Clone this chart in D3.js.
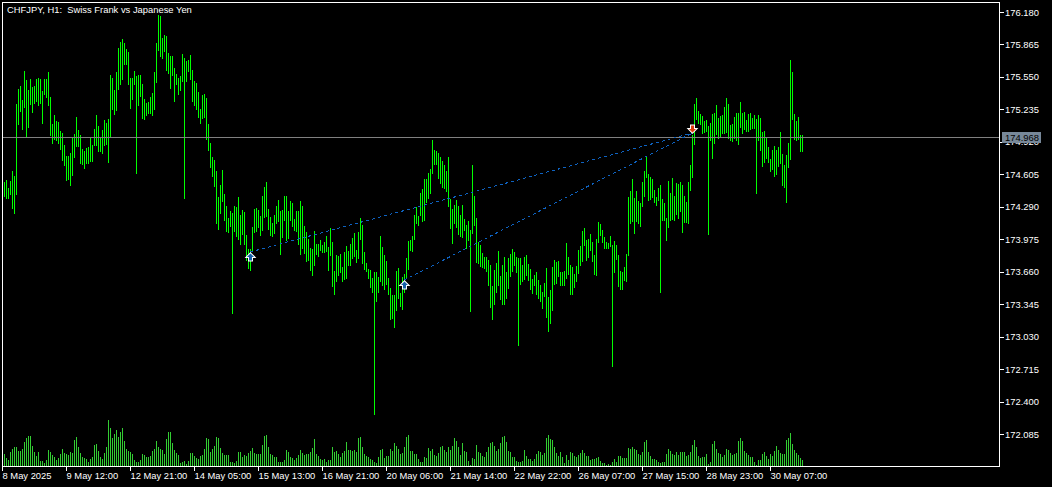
<!DOCTYPE html>
<html>
<head>
<meta charset="utf-8">
<script src="https://cdnjs.cloudflare.com/ajax/libs/d3/7.8.5/d3.min.js"></script>
<style>
  html, body { margin: 0; padding: 0; background: #000; overflow: hidden; }
  text { font-family: "Liberation Sans", Arial, sans-serif; font-size: 9.4px; fill: #fff; }
</style>
</head>
<body>
<div id="container"></div>
<script>
let w = 1052;
let h = 487;

let title = "CHFJPY, H1:  Swiss Frank vs Japanese Yen";
let priceTicks = [176.18,175.865,175.55,175.235,174.92,174.605,174.29,173.975,173.66,173.345,173.03,172.715,172.4,172.085];
let timeLabels = ["8 May 2025","9 May 12:00","12 May 21:00","14 May 05:00","15 May 13:00","16 May 21:00","20 May 06:00","21 May 14:00","22 May 22:00","26 May 07:00","27 May 15:00","28 May 23:00","30 May 07:00"];
let timeTickBars = [-1,31,63,95,127,159,191,223,255,287,319,351,383];
let lastPrice = 174.968;

let highs = [
174.536,174.555,174.477,174.545,174.642,174.594,175.292,175.438,175.467,175.331,
175.612,175.525,175.428,175.535,175.457,175.467,175.535,175.544,175.535,175.418,
175.535,175.535,175.603,175.360,175.098,175.185,175.127,175.118,175.030,175.011,
174.894,174.788,174.788,174.817,174.962,175.001,175.166,175.040,174.991,174.856,
174.836,174.865,174.875,174.962,174.894,175.050,175.185,175.079,174.962,175.040,
175.137,175.108,175.147,175.573,175.544,175.428,175.603,175.835,175.894,175.923,
175.884,175.826,175.797,175.544,175.544,175.612,175.564,175.573,175.573,175.486,
175.341,175.302,175.312,175.360,175.399,175.603,175.884,176.155,176.146,175.932,
175.961,175.952,175.787,175.758,175.758,175.641,175.583,175.544,175.564,175.777,
175.738,175.709,175.719,175.767,175.622,175.515,175.496,175.409,175.244,175.379,
175.389,175.350,175.098,174.914,174.778,174.749,174.642,174.390,174.506,174.652,
174.419,174.303,174.186,174.254,174.235,174.303,174.293,174.390,174.215,174.264,
174.245,174.021,173.886,173.886,174.099,174.274,174.283,174.264,174.206,174.400,
174.487,174.536,174.274,174.196,174.138,174.215,174.303,174.361,174.254,174.264,
174.400,174.400,174.254,174.351,174.332,174.177,174.254,174.254,174.351,174.303,
174.109,174.051,173.983,173.895,173.886,174.060,173.934,173.934,173.973,173.924,
173.954,174.012,173.905,174.089,173.954,173.672,173.827,173.818,173.837,173.711,
173.857,173.915,173.866,173.934,173.992,174.041,173.876,174.051,174.186,174.118,
173.857,173.750,173.692,173.682,173.604,173.663,173.663,173.614,174.012,173.905,
173.827,173.769,173.604,173.507,173.439,173.439,173.672,173.701,173.459,173.614,
173.643,173.798,173.963,173.973,174.012,174.215,174.293,174.206,174.429,174.468,
174.565,174.565,174.623,174.662,174.943,174.846,174.836,174.817,174.778,174.739,
174.700,174.642,174.778,174.371,174.274,174.312,174.361,174.303,174.215,174.312,
174.177,174.118,174.157,174.070,174.700,174.400,174.186,173.954,173.924,173.847,
173.808,173.808,173.779,173.730,173.527,173.682,173.750,173.866,173.623,173.730,
173.808,173.663,173.798,173.837,173.886,173.857,173.808,173.798,173.798,173.730,
173.808,173.827,173.740,173.692,173.594,173.633,173.663,173.585,173.536,173.469,
173.556,173.701,173.420,173.488,173.711,173.779,173.760,173.769,173.663,173.663,
173.672,173.944,173.808,173.730,173.711,173.643,173.721,173.876,173.915,174.060,
174.089,173.973,173.983,174.031,173.954,173.827,173.983,174.148,174.128,174.070,
174.002,173.954,173.944,174.012,173.924,173.963,173.924,173.827,173.672,173.663,
173.711,173.837,174.390,174.448,174.565,174.380,174.448,174.351,174.332,174.536,
174.642,174.788,174.613,174.584,174.565,174.458,174.390,174.477,174.506,174.371,
174.332,174.186,174.545,174.429,174.574,174.400,174.526,174.516,174.536,174.506,
174.400,174.342,174.536,174.700,174.991,175.292,175.350,175.224,175.195,175.176,
175.127,175.137,175.079,175.108,175.195,175.205,175.283,175.156,175.176,175.185,
175.263,175.350,175.292,175.088,175.098,175.166,175.205,175.205,175.312,175.205,
175.215,175.137,175.195,175.205,175.156,175.185,175.147,175.185,175.156,175.021,
175.030,174.962,174.875,174.759,174.846,174.885,174.846,174.875,175.021,174.807,
174.700,174.797,174.914,175.719,175.603,175.195,175.127,175.166,174.991,174.991];

let lows = [
174.390,174.371,174.371,174.409,174.274,174.225,174.409,175.088,175.215,175.040,
175.253,174.972,175.059,175.283,175.205,175.292,175.312,175.273,175.292,175.098,
175.379,175.350,175.273,174.982,174.904,174.943,174.933,174.904,174.846,174.739,
174.691,174.545,174.555,174.497,174.594,174.768,174.875,174.875,174.710,174.700,
174.662,174.710,174.710,174.730,174.730,174.885,174.885,174.827,174.827,174.807,
174.885,174.894,174.720,174.972,175.234,175.185,175.224,175.428,175.476,175.525,
175.670,175.670,175.476,175.244,175.331,175.476,174.613,175.273,175.360,175.147,
175.137,175.176,175.195,175.195,175.176,175.234,175.496,175.806,175.748,175.729,
175.797,175.612,175.583,175.438,175.564,175.312,175.476,175.379,175.418,175.506,
174.371,175.506,175.603,175.525,175.312,175.273,175.234,175.156,175.098,175.147,
175.156,174.943,174.836,174.671,174.584,174.487,174.128,174.070,174.225,174.342,
174.157,174.051,174.041,174.099,173.255,174.051,174.002,173.973,173.924,174.021,
173.924,173.769,173.692,173.672,173.866,174.041,174.051,174.089,174.012,174.060,
174.186,174.196,174.070,174.012,174.002,174.031,174.128,174.148,173.827,173.992,
174.157,173.963,173.983,174.157,174.099,174.060,174.051,173.924,173.827,173.886,
173.837,173.760,173.769,173.672,173.623,173.721,173.827,173.808,173.866,173.847,
173.847,173.857,173.672,173.818,173.517,173.439,173.565,173.623,173.653,173.565,
173.585,173.594,173.721,173.721,173.789,173.808,173.750,173.789,173.973,173.740,
173.682,173.663,173.594,173.507,173.459,172.276,173.372,173.459,173.565,173.527,
173.488,173.536,173.439,173.197,173.207,173.119,173.284,173.401,173.323,173.294,
173.459,173.604,173.682,173.866,173.857,173.973,174.128,174.109,174.206,174.148,
174.157,174.332,174.371,174.419,174.613,174.700,174.700,174.565,174.516,174.477,
174.468,174.439,174.293,174.080,173.934,174.128,174.089,174.021,174.002,173.992,
174.060,173.886,173.963,173.274,174.031,174.109,173.750,173.740,173.711,173.701,
173.692,173.663,173.527,173.313,173.197,173.342,173.459,173.527,173.391,173.342,
173.342,173.401,173.498,173.614,173.663,173.721,173.653,172.945,173.536,173.565,
173.585,173.623,173.575,173.488,173.449,173.527,173.439,173.401,173.372,173.304,
173.420,173.217,173.081,173.158,173.284,173.536,173.546,173.614,173.527,173.527,
173.527,173.594,173.633,173.439,173.439,173.507,173.565,173.643,173.721,173.760,
173.915,173.769,173.798,173.866,173.760,173.633,173.623,173.944,174.012,173.944,
173.886,173.886,173.886,173.905,172.741,173.653,173.779,173.517,173.488,173.488,
173.575,173.565,173.818,174.128,174.148,174.031,174.148,174.128,174.099,174.293,
174.390,174.574,174.351,174.361,174.380,174.332,174.303,174.351,173.459,174.157,
174.157,173.963,174.089,174.157,174.167,174.157,174.215,174.177,174.245,174.041,
174.138,174.138,174.128,174.448,174.574,174.894,175.137,175.098,175.088,175.001,
175.011,175.021,174.021,174.933,174.759,174.904,174.991,174.953,174.972,175.001,
175.001,175.011,174.953,174.933,174.923,174.953,174.933,174.894,175.059,175.001,
175.040,175.021,175.021,175.040,175.050,175.050,174.419,174.933,174.836,174.681,
174.720,174.759,174.720,174.633,174.652,174.584,174.603,174.681,174.710,174.497,
174.477,174.332,174.671,174.749,175.137,174.943,174.933,174.943,174.827,174.827];

let volumes = [
12,8,6,14,17,19,19,15,15,17,24,28,30,30,20,14,10,14,5,5,
3,6,16,14,11,9,6,8,12,17,13,12,11,14,13,26,29,19,13,9,
8,7,4,7,9,21,22,15,9,7,13,19,46,38,28,32,36,29,34,38,
25,17,15,14,12,6,4,4,6,12,11,9,9,10,15,17,25,19,17,16,
12,27,34,34,23,16,13,11,3,4,5,2,5,13,13,10,8,7,10,11,
17,28,27,14,17,20,29,28,18,13,11,11,11,4,4,3,5,14,14,9,
11,10,13,15,18,13,12,12,12,21,30,31,19,12,11,9,9,4,4,4,
6,16,14,9,8,6,8,11,16,13,11,12,12,14,18,27,12,10,7,6,
7,4,6,6,19,14,15,12,9,13,15,24,16,16,15,16,14,28,29,19,
12,10,9,7,6,4,3,9,16,17,8,10,10,17,15,23,20,17,12,13,
19,29,31,15,15,12,12,7,4,4,9,8,18,15,17,11,10,13,19,20,
16,14,19,16,20,28,25,19,11,23,15,14,5,1,8,7,21,14,13,10,
9,14,19,23,24,20,15,17,23,29,30,24,15,14,9,9,5,4,4,5,
16,10,7,7,5,7,12,15,14,11,13,28,31,27,26,19,13,10,14,9,
3,11,6,14,13,10,9,11,13,16,13,10,10,6,7,7,8,9,5,3,
3,1,2,1,4,7,4,10,10,8,8,8,18,17,19,17,16,12,11,14,
24,26,14,10,7,7,6,4,3,4,4,12,17,15,12,11,14,11,14,14,
14,10,11,14,21,26,19,10,8,9,9,12,2,4,22,25,17,13,12,9,
11,17,16,13,11,12,13,25,28,25,15,13,11,9,9,4,1,6,6,12,
14,10,7,12,10,15,20,16,13,12,12,26,28,33,22,16,13,11,8,6];

// trades: bar index and price of each deal
let entryBars = [123,200];
let entryPrices = [173.857,173.585];
let exitBar = 344;
let exitPrice = 175.011;

let viz = d3.select("#container")
  .append("svg")
    .attr("width", w)
    .attr("height", h)
    .style("display", "block")
    .style("background-color", "#000");

let x = d3.scaleLinear().domain([-1,399]).range([2,802]);
let y = d3.scaleLinear().domain([172.085,176.18]).range([434.5,12.5]);
let yVol = d3.scaleLinear().domain([0,46]).range([466,420]);

// volume histogram
viz.append("g").selectAll("line")
    .data(volumes)
    .enter()
    .append("line")
    .attr("x1", (d,i) => x(i)+0.5)
    .attr("x2", (d,i) => x(i)+0.5)
    .attr("y1", d => yVol(d))
    .attr("y2", yVol(0))
    .attr("stroke", "#32CD32")
    .attr("shape-rendering", "crispEdges");

// high-low bars
viz.append("g").selectAll("line")
    .data(highs)
    .enter()
    .append("line")
    .attr("x1", (d,i) => x(i)+0.5)
    .attr("x2", (d,i) => x(i)+0.5)
    .attr("y1", d => y(d))
    .attr("y2", (d,i) => y(lows[i]))
    .attr("stroke", "#00FF00")
    .attr("shape-rendering", "crispEdges");

// last price line
viz.append("line")
    .attr("x1", 3)
    .attr("x2", 999)
    .attr("y1", Math.floor(y(lastPrice))+0.5)
    .attr("y2", Math.floor(y(lastPrice))+0.5)
    .attr("stroke", "#808080")
    .attr("shape-rendering", "crispEdges");

// deal connectors
viz.append("g").selectAll("line")
    .data(entryBars)
    .enter()
    .append("line")
    .attr("x1", d => x(d)+0.5)
    .attr("y1", (d,i) => y(entryPrices[i]))
    .attr("x2", x(exitBar)+0.5)
    .attr("y2", y(exitPrice))
    .attr("stroke", "#0E62C0")
    .attr("stroke-dasharray", "3,3")
    .attr("shape-rendering", "crispEdges");

let arrowUp = "M0,-3.5L3.5,0L1.5,0L1.5,3.5L-1.5,3.5L-1.5,0L-3.5,0Z";
let arrowDown = "M0,3.5L3.5,0L1.5,0L1.5,-3.5L-1.5,-3.5L-1.5,0L-3.5,0Z";

// white outline is painted under the fill so the colour stays visible
viz.append("g").selectAll("path")
    .data(entryBars)
    .enter()
    .append("path")
    .attr("d", arrowUp)
    .attr("transform", (d,i) => "translate(" + (x(d)+0.5) + "," + (y(entryPrices[i])+5) + ")")
    .attr("fill", "#1560A8")
    .attr("stroke", "#fff")
    .attr("stroke-width", 2)
    .attr("stroke-linejoin", "miter")
    .style("paint-order", "stroke");

viz.append("path")
    .attr("d", arrowDown)
    .attr("transform", "translate(" + (x(exitBar)+0.5) + "," + (y(exitPrice)-4) + ")")
    .attr("fill", "#E03A10")
    .attr("stroke", "#fff")
    .attr("stroke-width", 2)
    .attr("stroke-linejoin", "miter")
    .style("paint-order", "stroke");

// frame
viz.append("rect")
    .attr("x", 2.5)
    .attr("y", 2.5)
    .attr("width", 997)
    .attr("height", 464)
    .attr("fill", "none")
    .attr("stroke", "#fff")
    .attr("shape-rendering", "crispEdges");

// axes
let priceAxis = d3.axisRight(y)
    .tickValues(priceTicks)
    .tickFormat(d3.format(".3f"))
    .tickSize(4)
    .tickPadding(1)
    .offset(0);
let gPrice = viz.append("g").attr("transform", "translate(1000,0)").call(priceAxis);

let timeAxis = d3.axisBottom(x)
    .tickValues(timeTickBars)
    .tickFormat((d,i) => timeLabels[i])
    .tickSize(4);
let gTime = viz.append("g").attr("transform", "translate(0,467)").call(timeAxis);

gPrice.select(".domain").remove();
gTime.select(".domain").remove();
viz.selectAll(".tick line").attr("stroke", "#fff").attr("shape-rendering", "crispEdges");
gPrice.selectAll("text").attr("fill", null);
gTime.selectAll("text")
    .attr("text-anchor", "start")
    .attr("x", 0)
    .attr("y", 5)
    .attr("fill", null);
gTime.attr("font-family", null).attr("font-size", null);
gPrice.attr("font-family", null).attr("font-size", null);

// last price label
viz.append("rect")
    .attr("x", 1002)
    .attr("y", y(lastPrice)-5.5)
    .attr("width", 39)
    .attr("height", 11)
    .attr("fill", "#778899")
    .attr("shape-rendering", "crispEdges");
viz.append("text")
    .attr("x", 1005)
    .attr("y", y(lastPrice)+3.5)
    .style("fill", "#000")
    .text(d3.format(".3f")(lastPrice));

// chart title
viz.append("text")
    .attr("x", 7)
    .attr("y", 13)
    .attr("xml:space", "preserve")
    .style("white-space", "pre")
    .text(title);
</script>
</body>
</html>
